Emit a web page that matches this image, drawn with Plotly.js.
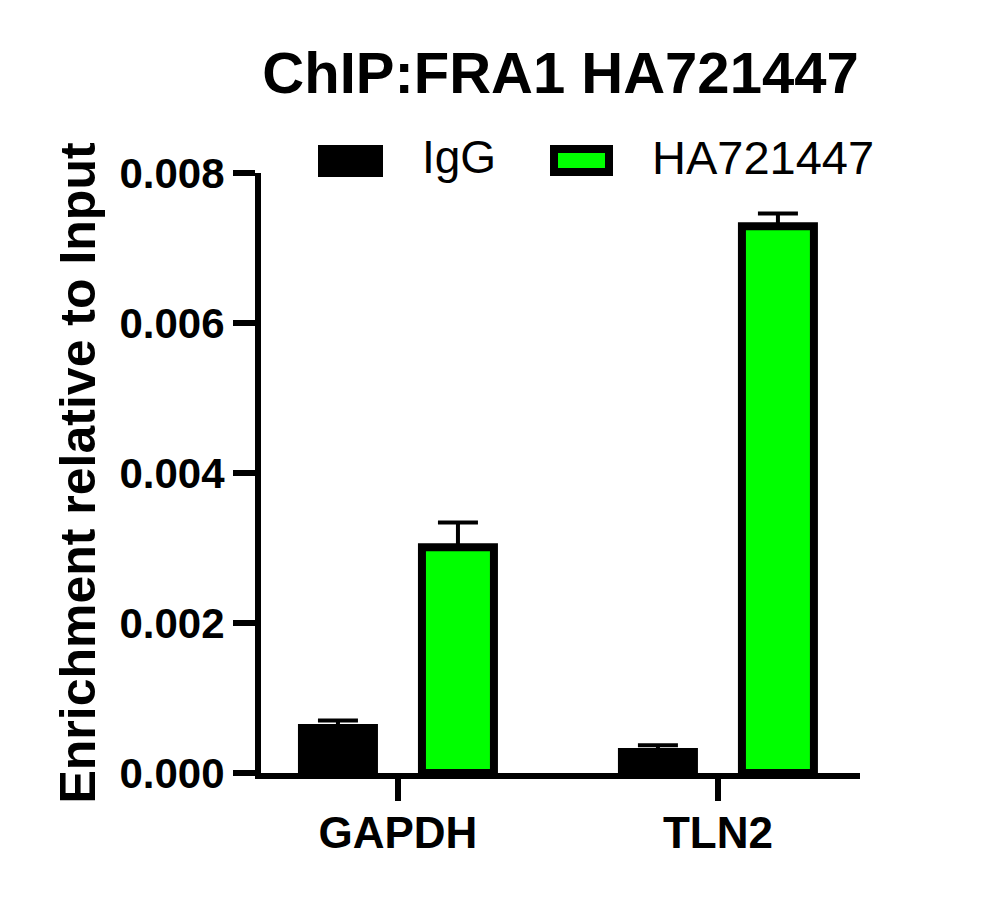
<!DOCTYPE html>
<html>
<head>
<meta charset="utf-8">
<script src="https://cdn.plot.ly/plotly-3.0.1.min.js"></script>
<style>html,body{margin:0;padding:0;background:#fff;}#chart{width:996px;height:913px;}</style>
</head>
<body>
<div id="chart"></div>
<script>
// Data
const categories = ["GAPDH", "TLN2"];
const seriesNames = ["IgG", "HA721447"];
const iggValues = [0.00060, 0.00028];
const iggErrors = [0.00010, 0.00009];
const haValues = [0.00301, 0.00729];
const haErrors = [0.00033, 0.00017];
const yTickVals = [0, 0.002, 0.004, 0.006, 0.008];
const yTickText = ["0.000", "0.002", "0.004", "0.006", "0.008"];
const chartTitle = "ChIP:FRA1 HA721447";
const yTitle = "Enrichment relative to Input";

const FONT = "Liberation Sans, Arial, Helvetica, sans-serif";
const GREEN = "#00ff00";

const errStyle = {type: "data", symmetric: false, color: "#000", thickness: 4, width: 20};

const traces = [
  {
    type: "bar", name: seriesNames[0], x: categories, y: iggValues,
    marker: {color: "#000", line: {color: "#000", width: 8}},
    error_y: Object.assign({array: iggErrors, arrayminus: iggErrors.map(() => 0)}, errStyle),
    showlegend: false
  },
  {
    type: "bar", name: seriesNames[1], x: categories, y: haValues,
    marker: {color: GREEN, line: {color: "#000", width: 8}},
    error_y: Object.assign({array: haErrors, arrayminus: haErrors.map(() => 0)}, errStyle),
    showlegend: false
  }
];

// paper-coordinate helpers for the hand-drawn legend (plot area 261..860 x, 173..773 y)
const PX0 = 261, PW = 599, PY0 = 773, PH = 600;
const px = v => (v - PX0) / PW;
const py = v => (PY0 - v) / PH;

const layout = {
  width: 996, height: 913,
  paper_bgcolor: "#fff", plot_bgcolor: "#fff",
  margin: {l: 261, r: 136, t: 173, b: 140},
  font: {family: FONT, color: "#000"},
  title: {
    text: "<b>" + chartTitle + "</b>",
    font: {family: FONT, size: 58, color: "#000"},
    x: 0.5, xref: "paper", xanchor: "center",
    y: 1 - 73 / 913, yref: "container", yanchor: "middle"
  },
  barmode: "group", bargap: 0.25, bargroupgap: 0.4,
  xaxis: {
    type: "category", range: [-0.428, 1.444],
    showline: true, linecolor: "#000", linewidth: 6,
    ticks: "outside", ticklen: 22, tickwidth: 6, tickcolor: "#000",
    ticklabelstandoff: -6,
    tickfont: {family: FONT, size: 44, color: "#000", weight: "bold"},
    showgrid: false, zeroline: false, fixedrange: true
  },
  yaxis: {
    range: [0, 0.008],
    tickvals: yTickVals, ticktext: yTickText,
    showline: true, linecolor: "#000", linewidth: 6,
    ticks: "outside", ticklen: 22, tickwidth: 6, tickcolor: "#000",
    tickfont: {family: FONT, size: 42, color: "#000", weight: "bold"},
    showgrid: false, zeroline: false, fixedrange: true,
    title: {text: "<b>" + yTitle + "</b>", font: {family: FONT, size: 50, color: "#000"}, standoff: 10}
  },
  shapes: [
    {type: "rect", xref: "paper", yref: "paper",
     x0: px(318), x1: px(383), y0: py(177), y1: py(145),
     fillcolor: "#000", line: {width: 0}},
    {type: "rect", xref: "paper", yref: "paper",
     x0: px(554), x1: px(609), y0: py(172), y1: py(149),
     fillcolor: GREEN, line: {color: "#000", width: 8}}
  ],
  annotations: [
    {xref: "paper", yref: "paper", x: px(420), y: py(157), xanchor: "left", yanchor: "middle",
     text: seriesNames[0], showarrow: false, font: {family: FONT, size: 46, color: "#000"}},
    {xref: "paper", yref: "paper", x: px(650), y: py(157), xanchor: "left", yanchor: "middle",
     text: seriesNames[1], showarrow: false, font: {family: FONT, size: 47, color: "#000"}}
  ]
};

Plotly.newPlot("chart", traces, layout, {displayModeBar: false, staticPlot: true});
</script>
</body>
</html>
